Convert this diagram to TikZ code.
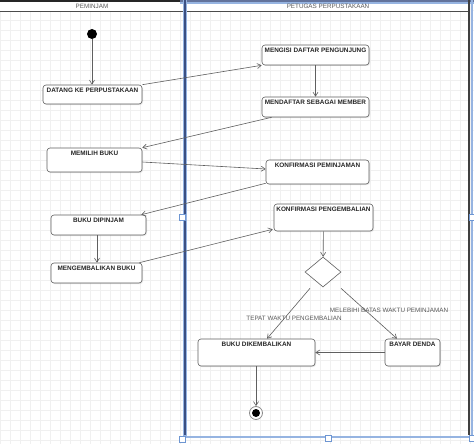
\documentclass[tikz,border=0pt]{standalone}
\usepackage{fontspec}
\setmainfont{Liberation Sans}
\usetikzlibrary{arrows.meta,shapes.geometric,shadows}
\definecolor{selblue}{RGB}{150,180,225}
\definecolor{laneblue}{RGB}{60,80,130}
\definecolor{handleblue}{RGB}{110,150,210}
\definecolor{linegray}{RGB}{95,95,95}
\begin{document}
\begin{tikzpicture}[x=1pt,y=-1pt,
  box/.style={draw=linegray, line width=0.6pt, rounded corners=3pt, fill=white, inner sep=0pt,
    drop shadow={opacity=0.2,shadow xshift=1pt,shadow yshift=-1pt}},
  nodetxt/.style={anchor=north, inner sep=3pt, font=\fontsize{6.4}{7}\selectfont\bfseries, text=black!85},
  lanetxt/.style={font=\fontsize{6.3}{7}\selectfont, text=black!65},
  edgetxt/.style={font=\fontsize{6.3}{7}\selectfont, text=black!65},
  conn/.style={draw=linegray, line width=0.6pt, -{Straight Barb[length=4pt,width=5pt]}},
  handle/.style={draw=handleblue, fill=white, line width=0.6pt, minimum size=6pt, inner sep=0pt}]
\useasboundingbox (0,0) rectangle (474,444);
\fill[white] (0,0) rectangle (474,444);
% grid
\draw[black!6, line width=0.3pt] (0,0) grid[step=10pt] (474,444);
% header
\fill[white] (0,2) rectangle (469,11);
\fill[black!85] (0,0) rectangle (180,2.5);
\fill[laneblue!80] (180,0) rectangle (474,2.5);
\fill[selblue] (180,2.5) rectangle (474,4);
\node[lanetxt] (lane1) at (92,6.8) {PEMINJAM};
\node[lanetxt] (lane2) at (328,6.8) {PETUGAS PERPUSTAKAAN};
\draw[black!70, line width=0.8pt] (0,11.3) -- (469,11.3);
% lane borders
\draw[selblue, line width=2pt] (471.5,0) -- (471.5,437);
\draw[selblue, line width=4pt] (185,0) -- (185,437);
\draw[laneblue, line width=1.6pt] (185,0) -- (185,435);
\draw[black!75, line width=1.2pt] (469,0) -- (469,435);
\draw[selblue, line width=2pt] (183,437) -- (474,437);
% handles
\node[handle] (h1) at (182.5,217.5) {};
\node[handle] (h2) at (472,217.5) {};
\node[handle] (h3) at (182,439) {};
\node[handle] (h4) at (328,438) {};
\node[handle] (h5) at (472,438) {};
% start
\node[circle, fill=black, minimum size=10pt, inner sep=0pt] (start) at (92,34) {};
% left lane
\node[box, minimum width=99pt, minimum height=19pt, label={[nodetxt]north:DATANG KE PERPUSTAKAAN}] (datang) at (92.5,94.5) {};
\node[box, minimum width=95pt, minimum height=24pt, label={[nodetxt]north:MEMILIH BUKU}] (memilih) at (94.5,160) {};
\node[box, minimum width=95pt, minimum height=20pt, label={[nodetxt]north:BUKU DIPINJAM}] (dipinjam) at (98.5,225) {};
\node[box, minimum width=91pt, minimum height=20pt, label={[nodetxt]north:MENGEMBALIKAN BUKU}] (kembali) at (96.5,273) {};
% right lane
\node[box, minimum width=107pt, minimum height=20pt, label={[nodetxt]north:MENGISI DAFTAR PENGUNJUNG}] (mengisi) at (315.5,55) {};
\node[box, minimum width=107pt, minimum height=20pt, label={[nodetxt]north:MENDAFTAR SEBAGAI MEMBER}] (member) at (315.5,107) {};
\node[box, minimum width=103pt, minimum height=24pt, label={[nodetxt]north:KONFIRMASI PEMINJAMAN}] (kpinjam) at (317.5,172) {};
\node[box, minimum width=99pt, minimum height=27pt, label={[nodetxt]north:KONFIRMASI PENGEMBALIAN}] (kkembali) at (323.5,217.5) {};
\node[diamond, draw=linegray, line width=0.6pt, fill=white, inner sep=0pt, minimum width=36pt, minimum height=30pt] (dec) at (323,272) {};
\node[box, minimum width=117pt, minimum height=27pt, label={[nodetxt]north:BUKU DIKEMBALIKAN}] (bukudik) at (256.5,352.5) {};
\node[box, minimum width=55pt, minimum height=27pt, label={[nodetxt]north:BAYAR DENDA}] (denda) at (412.5,352.5) {};
% end
\node[circle, draw=black!45, line width=0.8pt, fill=white, minimum size=13pt, inner sep=0pt] (finish) at (256,413) {};
\node[circle, fill=black, minimum size=8pt, inner sep=0pt] (finishdot) at (finish) {};
% connectors
\draw[conn] (start) -- (datang.north -| start);
\draw[conn] (datang.north east) -- (mengisi.south west);
\draw[conn] (mengisi) -- (member);
\draw[conn] ([xshift=10pt]member.south west) -- (memilih.north east);
\draw[conn] ([yshift=-2pt]memilih.east) -- ([yshift=3pt]kpinjam.west);
\draw[conn] ([yshift=1pt]kpinjam.south west) -- ([xshift=-5pt]dipinjam.north east);
\draw[conn] (dipinjam.south -| 97,0) -- (kembali.north -| 97,0);
\draw[conn] ([xshift=-3pt]kembali.north east) -- ([yshift=2pt,xshift=-1pt]kkembali.south west);
\draw[conn] (kkembali) -- (dec);
\draw[conn] ([xshift=-13pt,yshift=-1pt]dec.south) -- ([xshift=10.5pt]bukudik.north);
\node[edgetxt] (lbl1) at (294,318) {TEPAT WAKTU PENGEMBALIAN};
\draw[conn] ([xshift=18pt,yshift=-1pt]dec.south) -- ([xshift=-15.5pt]denda.north);
\node[edgetxt] (lbl2) at (389,310) {MELEBIHI BATAS WAKTU PEMINJAMAN};
\draw[conn] (denda.west) -- (bukudik.east);
\draw[conn] (bukudik.south -| finish) -- (finish);
\end{tikzpicture}
\end{document}
